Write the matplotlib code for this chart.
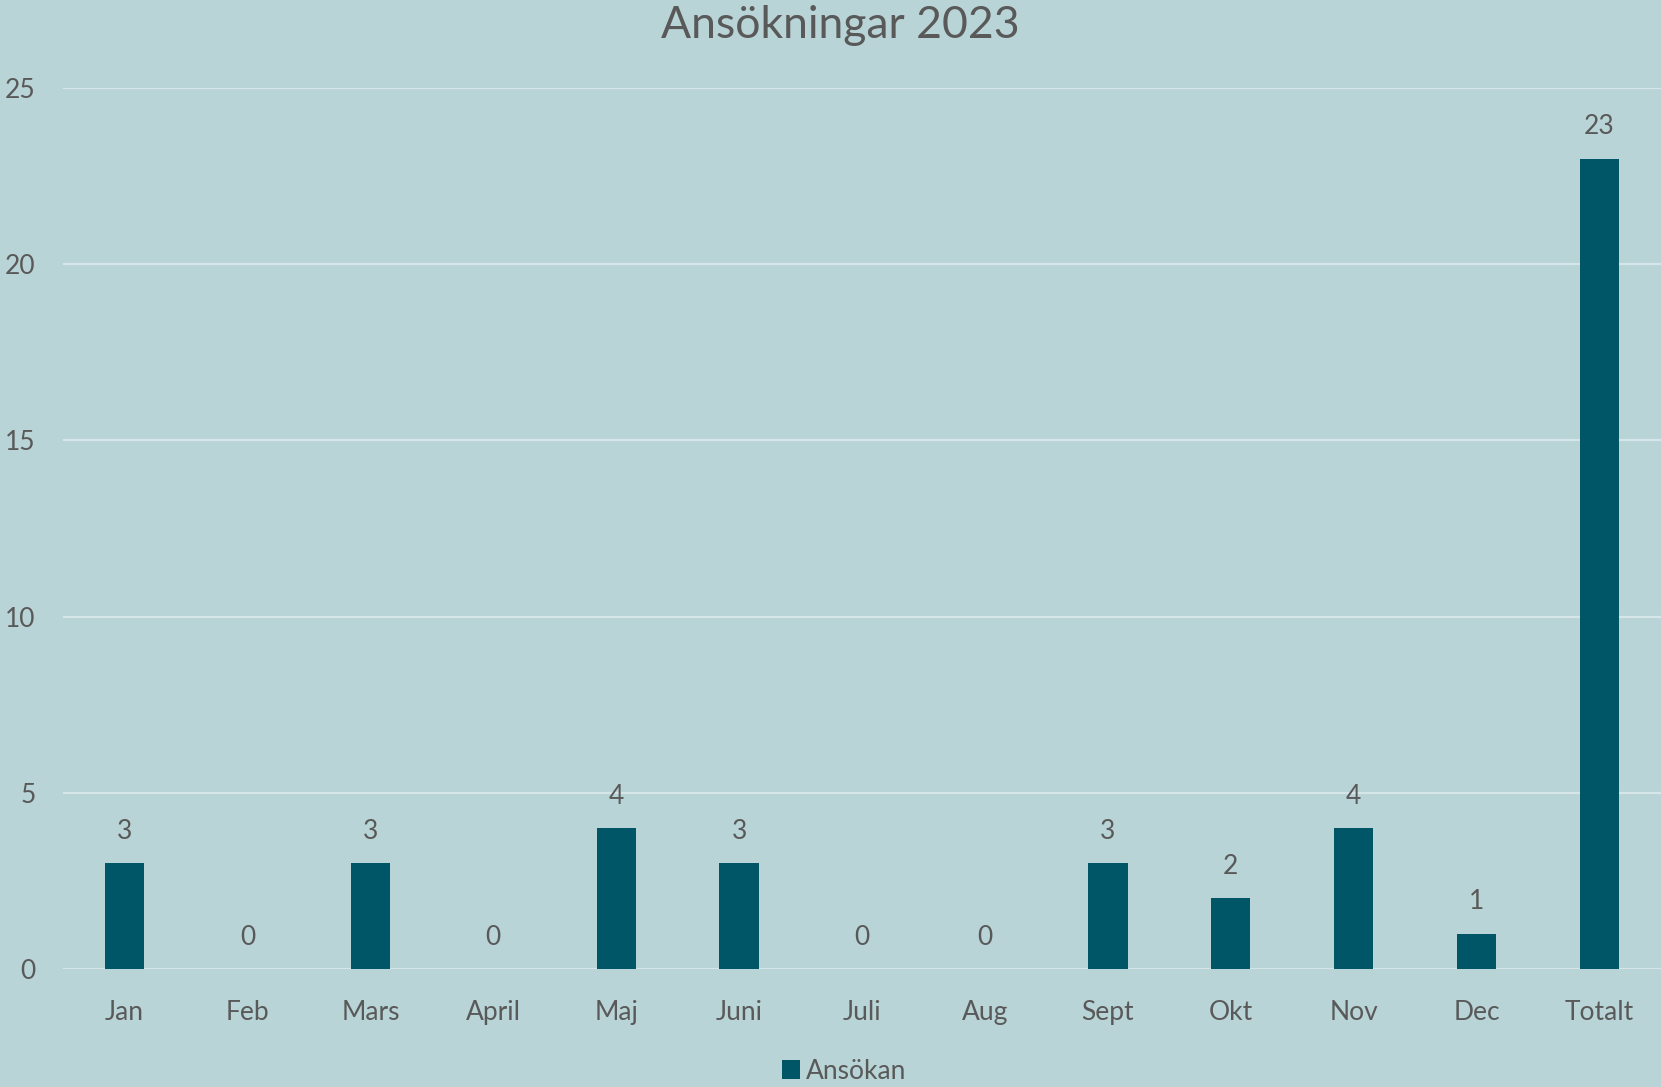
import numpy as np
import matplotlib.pyplot as plt

# Data
months = ["Jan", "Feb", "Mars", "April", "Maj", "Juni", "Juli", "Aug",
          "Sept", "Okt", "Nov", "Dec", "Totalt"]
applications = [3, 0, 3, 0, 4, 3, 0, 0, 3, 2, 4, 1, 23]
y_ticks = [0, 5, 10, 15, 20, 25]

# Colours
BG = "#b9d4d7"
BAR = "#005566"
TEXT = "#595959"
GRID = "#d6e6e8"

plt.rcParams['font.family'] = ['Lato', 'DejaVu Sans']

fig = plt.figure(figsize=(16.61, 10.87), dpi=100)
fig.patch.set_facecolor(BG)
ax = fig.add_axes([0.038, 0.1086, 0.962, 0.8104])
ax.set_facecolor(BG)

x = np.arange(len(months))
bars = ax.bar(x, applications, width=0.32, color=BAR, zorder=3, label="Ansökan")

# Data labels
for xi, v in zip(x, applications):
    ax.annotate(str(v), (xi, v), xytext=(0, 14), textcoords="offset points",
                ha="center", va="bottom", fontsize=19, color=TEXT)

ax.set_xlim(-0.5, len(months) - 0.5)
ax.set_ylim(0, 25)
ax.set_yticks(y_ticks)
ax.set_xticks(x)
ax.set_xticklabels(months)
ax.tick_params(axis="y", length=0, pad=20, labelsize=19, labelcolor=TEXT)
ax.tick_params(axis="x", length=0, pad=22, labelsize=19, labelcolor=TEXT)
ax.grid(axis="y", color=GRID, linewidth=1.5, zorder=0)
for s in ax.spines.values():
    s.set_visible(False)

fig.text(0.506, 0.9766, "Ansökningar 2023", fontsize=32, color=TEXT,
         ha="center", va="center")

leg = fig.legend(loc="center", bbox_to_anchor=(0.508, 0.0147), frameon=False,
                 fontsize=19, handlelength=0.7, handleheight=0.7, handletextpad=0.2,
                 labelcolor=TEXT)

fig.savefig("out.png", dpi=100, facecolor=BG)
